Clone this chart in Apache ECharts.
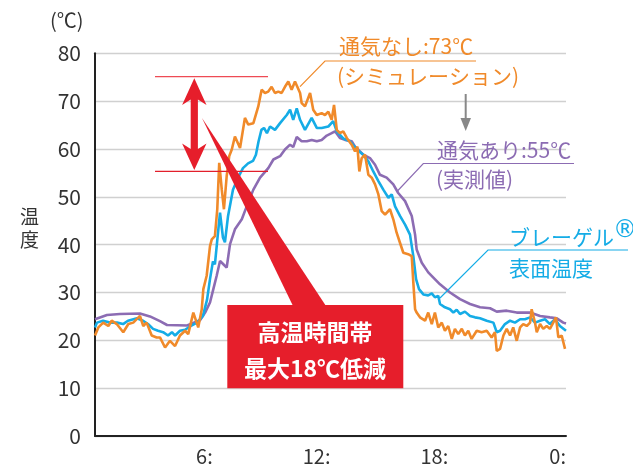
<!DOCTYPE html>
<html><head><meta charset="utf-8">
<script src="https://cdn.jsdelivr.net/npm/echarts@6/dist/echarts.min.js"></script>
<style>html,body{margin:0;padding:0;background:#fff}#c{width:633px;height:466px}</style>
</head><body><div id="c"></div>
<script>
// x: hours of day, y: temperature (℃)
const xTicks = ['6:', '12:', '18:', '0:'];
const yTicks = [0, 10, 20, 30, 40, 50, 60, 70, 80];

const orangeName = '通気なし（シミュレーション）';
const orangeT = [0.00,0.17,0.42,0.68,0.85,1.11,1.44,1.70,1.95,2.29,2.46,2.63,2.89,3.14,3.31,3.57,3.82,4.08,4.33,4.59,4.75,5.01,5.18,5.26,5.44,5.52,5.69,5.86,5.95,6.11,6.23,6.33,6.46,6.57,6.71,6.84,6.97,7.13,7.39,7.64,7.81,8.07,8.32,8.49,8.66,8.83,9.00,9.17,9.34,9.51,9.68,9.85,10.02,10.19,10.28,10.45,10.53,10.70,10.96,11.12,11.30,11.55,11.72,11.89,12.06,12.18,12.32,12.48,12.65,12.83,13.08,13.25,13.37,13.47,13.59,13.76,13.93,14.10,14.27,14.44,14.61,14.78,15.03,15.20,15.37,15.54,15.71,15.96,16.14,16.22,16.31,16.39,16.56,16.82,16.98,17.16,17.32,17.49,17.67,17.83,18.00,18.18,18.34,18.51,18.69,18.85,19.02,19.19,19.45,19.70,19.96,20.21,20.38,20.47,20.64,20.81,20.98,21.15,21.31,21.49,21.66,21.82,22.00,22.17,22.25,22.42,22.51,22.68,22.84,23.02,23.18,23.35,23.49,23.61,23.78,23.95];
const orangeV = [21.0,22.7,23.7,23.0,24.1,23.4,21.7,23.4,23.7,25.1,23.0,23.7,21.0,20.6,20.6,18.5,19.9,18.8,21.0,22.0,21.3,25.8,23.7,22.7,26.5,30.7,33.5,39.7,41.1,41.8,47.4,57.1,51.5,47.4,54.3,58.5,59.9,62.6,60.2,66.5,65.1,65.4,68.9,72.4,71.7,72.0,73.0,71.7,72.0,71.7,73.0,74.1,72.4,74.1,74.4,71.7,69.6,68.9,71.7,68.2,67.1,67.5,67.1,67.8,66.1,69.2,64.0,63.3,63.7,62.3,60.9,59.5,60.5,55.3,58.1,58.8,54.6,54.0,52.6,50.5,47.0,46.3,47.4,45.3,42.5,40.4,38.3,38.0,37.6,32.1,26.5,25.8,24.8,24.1,25.8,23.4,25.8,22.7,23.7,22.0,23.0,20.3,22.4,21.3,22.4,21.0,22.0,20.3,22.0,21.7,22.0,20.6,21.7,17.8,18.2,21.0,22.4,21.0,22.7,19.9,22.7,23.4,23.0,23.7,26.5,23.7,21.7,23.4,22.4,23.0,22.4,23.7,24.8,20.6,21.0,18.2];

const blueName = 'ブレーゲル表面温度';
const blueT = [0.00,0.10,0.41,0.76,1.12,1.43,1.68,2.14,2.45,2.70,2.96,3.21,3.47,3.72,3.92,4.08,4.33,4.59,4.84,5.20,5.50,5.71,5.86,6.01,6.11,6.22,6.37,6.52,6.62,6.78,7.03,7.29,7.54,7.80,8.05,8.20,8.33,8.48,8.61,8.76,8.92,9.17,9.43,9.77,9.94,10.10,10.28,10.45,10.70,11.04,11.30,11.55,11.89,12.14,12.32,12.65,12.99,13.34,13.67,13.93,14.18,14.44,14.69,14.95,15.12,15.29,15.54,15.80,16.05,16.22,16.36,16.51,16.73,16.98,17.16,17.32,17.49,17.58,17.83,18.09,18.26,18.43,18.60,18.85,19.11,19.36,19.62,19.96,20.30,20.47,20.64,20.89,21.15,21.40,21.66,21.91,22.17,22.42,22.68,22.93,23.18,23.44,23.69,24.00];
const blueV = [22.7,23.7,24.1,23.7,23.7,23.4,24.1,24.6,24.1,23.4,22.4,22.0,21.7,21.0,21.7,21.0,22.0,22.2,22.9,23.7,25.1,28.5,32.8,36.5,35.9,40.5,46.7,41.5,40.5,46.0,51.5,54.0,56.0,57.0,57.5,58.8,61.5,64.0,64.4,63.3,64.7,64.0,65.4,67.1,68.2,66.1,68.5,66.1,64.0,66.5,64.4,64.4,64.7,65.8,63.7,62.2,61.6,59.9,58.8,57.4,55.3,53.3,51.5,49.8,50.5,48.0,46.0,44.2,42.1,37.6,32.8,30.7,29.6,29.4,29.8,29.0,29.3,27.6,26.9,26.5,25.8,26.4,25.5,26.0,25.1,24.8,24.6,24.1,23.7,21.7,22.0,23.4,24.1,23.7,24.4,24.4,24.8,23.7,24.1,24.4,23.4,24.4,23.0,22.0];

const purpleName = '通気あり（実測値）';
const purpleT = [0.00,0.61,1.27,2.29,2.80,3.31,3.67,4.69,5.35,5.61,5.86,6.03,6.20,6.37,6.54,6.71,6.88,7.13,7.48,7.73,8.07,8.41,8.83,9.09,9.43,9.68,9.94,10.10,10.28,10.53,10.79,11.04,11.30,11.55,11.81,12.06,12.23,12.48,12.74,13.08,13.25,13.67,14.01,14.27,14.52,14.86,15.20,15.45,15.80,16.14,16.31,16.39,16.65,16.98,17.58,18.09,18.60,19.11,19.62,20.13,20.47,20.98,21.49,22.17,22.68,23.18,23.53,23.86,24.00];
const purpleV = [24.4,25.3,25.5,25.6,25.0,24.0,23.2,23.1,24.2,25.8,27.9,30.7,33.5,36.6,35.9,35.2,40.1,43.2,45.3,48.0,51.5,54.0,56.0,57.8,58.5,59.9,60.9,60.4,62.5,61.6,61.6,61.9,61.6,61.9,62.8,63.3,63.7,62.3,61.9,61.6,60.5,58.8,58.1,56.7,54.6,54.0,52.6,50.8,49.1,46.0,42.1,39.0,36.2,34.2,31.7,30.0,28.6,27.6,26.9,26.7,26.0,26.2,25.8,25.8,25.1,24.8,24.6,23.7,23.5];

const FONT = '"Noto Sans CJK JP", "Noto Sans", sans-serif';
const C_OR = '#F08A2A', C_BL = '#15ACE6', C_PU = '#8C6CB3', C_RED = '#E61E2B';

function pairs(t, v) { return t.map((x, i) => [x, v[i]]); }

const chart = echarts.init(document.getElementById('c'), null, { renderer: 'canvas' });
chart.setOption({
  animation: false,
  backgroundColor: '#fff',
  grid: { left: 95, right: 67, top: 53.3, bottom: 28.7, containLabel: false },
  xAxis: {
    type: 'value', min: 0, max: 24, interval: 6,
    axisLine: { show: true, lineStyle: { color: '#222', width: 2 } },
    axisTick: { show: false },
    splitLine: { show: false },
    axisLabel: {
      margin: 10, fontSize: 20, color: '#333', fontFamily: FONT, align: 'right',
      formatter: v => (v === 0 ? '' : xTicks[v / 6 - 1])
    }
  },
  yAxis: {
    type: 'value', min: yTicks[0], max: yTicks[yTicks.length - 1], interval: 10,
    axisLine: { show: true, lineStyle: { color: '#222', width: 2 } },
    axisTick: { show: false },
    splitLine: { show: true, lineStyle: { color: '#d0d0d0', width: 1.3 } },
    axisLabel: { margin: 14, fontSize: 21, color: '#333', fontFamily: FONT }
  },
  series: [
    { name: purpleName, type: 'line', data: pairs(purpleT, purpleV), showSymbol: false, z: 2,
      lineStyle: { color: C_PU, width: 2.6 }, itemStyle: { color: C_PU } },
    { name: blueName, type: 'line', data: pairs(blueT, blueV), showSymbol: false, z: 3,
      lineStyle: { color: C_BL, width: 2.6 }, itemStyle: { color: C_BL } },
    { name: orangeName, type: 'line', data: pairs(orangeT, orangeV), showSymbol: false, z: 4,
      lineStyle: { color: C_OR, width: 2.6 }, itemStyle: { color: C_OR } }
  ],
  graphic: [
    // axis titles
    { type: 'text', left: 50, top: 10, style: { text: '(℃)', font: '20px ' + FONT, fill: '#333' } },
    { type: 'text', left: 20, top: 205, style: { text: '温\n度', font: '19px ' + FONT, fill: '#333', lineHeight: 23 } },
    // red reference lines
    { type: 'line', shape: { x1: 155, y1: 76.7, x2: 268, y2: 76.7 }, style: { stroke: '#EE4B55', lineWidth: 1.2 }, z: 10 },
    { type: 'line', shape: { x1: 155, y1: 171.3, x2: 268, y2: 171.3 }, style: { stroke: '#E21F2B', lineWidth: 1.2 }, z: 10 },
    // double arrow
    { type: 'polygon', z: 10, shape: { points: [
      [194.3, 78.3], [206.5, 105], [197.9, 99.5], [197.9, 149], [206.5, 143.5],
      [194.3, 170], [182.1, 143.5], [190.7, 149], [190.7, 99.5], [182.1, 105]
    ] }, style: { fill: C_RED } },
    // wedge to callout
    { type: 'polygon', z: 10, shape: { points: [[202, 118], [293, 306], [326, 306]] }, style: { fill: C_RED } },
    // callout box
    { type: 'rect', z: 11, shape: { x: 227.3, y: 305, width: 176, height: 83.3 }, style: { fill: C_RED } },
    { type: 'text', z: 12, x: 315, y: 332, style: { text: '高温時間帯', font: 'bold 23px ' + FONT, fill: '#fff', textAlign: 'center', textVerticalAlign: 'middle' } },
    { type: 'text', z: 12, x: 315, y: 368.5, style: { text: '最大18℃低減', font: 'bold 23px ' + FONT, fill: '#fff', textAlign: 'center', textVerticalAlign: 'middle' } },
    // orange label
    { type: 'polyline', z: 10, shape: { points: [[300, 86.7], [325, 61], [476, 61]] }, style: { stroke: C_OR, lineWidth: 1.2, fill: null } },
    { type: 'text', z: 10, x: 339, y: 46, style: { text: '通気なし:73℃', font: '21px ' + FONT, fill: C_OR, textVerticalAlign: 'middle' } },
    { type: 'text', z: 10, x: 337, y: 76, style: { text: '(シミュレーション)', font: '21px ' + FONT, fill: C_OR, textVerticalAlign: 'middle' } },
    // gray arrow
    { type: 'line', z: 10, shape: { x1: 465.7, y1: 94, x2: 465.7, y2: 121 }, style: { stroke: '#888', lineWidth: 2 } },
    { type: 'polygon', z: 10, shape: { points: [[460.5, 118], [471, 118], [465.7, 131]] }, style: { fill: '#888' } },
    // purple label
    { type: 'polyline', z: 10, shape: { points: [[397, 191.5], [423.3, 163.5], [574, 163.5]] }, style: { stroke: C_PU, lineWidth: 1.2, fill: null } },
    { type: 'text', z: 10, x: 437, y: 150, style: { text: '通気あり:55℃', font: '21px ' + FONT, fill: C_PU, textVerticalAlign: 'middle' } },
    { type: 'text', z: 10, x: 436, y: 179, style: { text: '(実測値)', font: '21px ' + FONT, fill: C_PU, textVerticalAlign: 'middle' } },
    // blue label
    { type: 'polyline', z: 10, shape: { points: [[440, 298], [488, 250], [628, 250]] }, style: { stroke: C_BL, lineWidth: 1.2, fill: null } },
    { type: 'text', z: 10, x: 509, y: 237, style: { text: 'ブレーゲル', font: '21px ' + FONT, fill: C_BL, textVerticalAlign: 'middle' } },
    { type: 'text', z: 10, x: 613, y: 231, style: { text: '®', font: '24px "DejaVu Sans", sans-serif', fill: C_BL, textVerticalAlign: 'middle' } },
    { type: 'text', z: 10, x: 509, y: 268, style: { text: '表面温度', font: '21px ' + FONT, fill: C_BL, textVerticalAlign: 'middle' } }
  ]
});
</script>
</body></html>
